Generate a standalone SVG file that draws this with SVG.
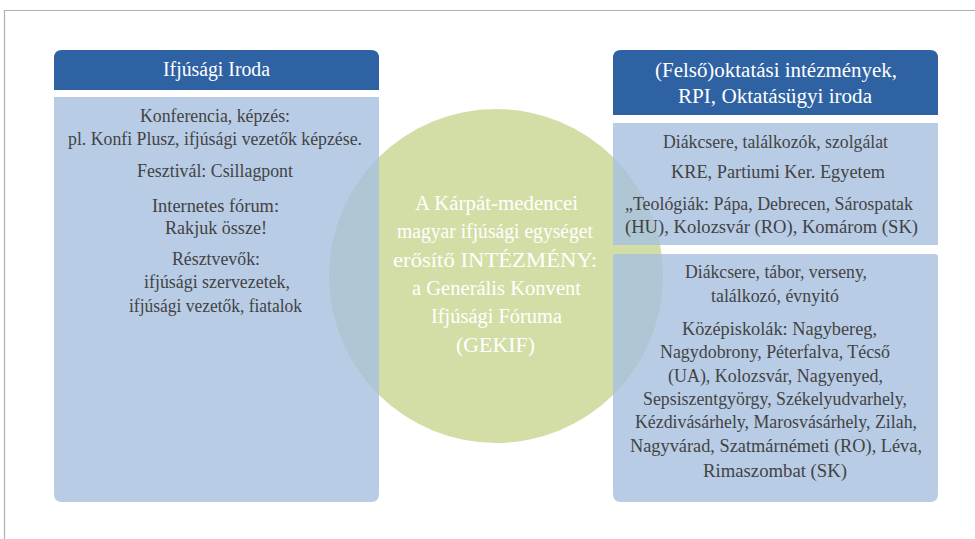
<svg xmlns="http://www.w3.org/2000/svg" width="975" height="539" viewBox="0 0 975 539">
<style>
text{font-family:"Liberation Serif","DejaVu Serif",serif;text-anchor:middle}
.hd{fill:#2e62a3}
.bd{fill:#a6bfe0;fill-opacity:0.8}
.ht{fill:#ffffff;font-size:20.5px}
.bt{fill:#434343;font-size:18px}
.ct{fill:#ffffff;font-size:20.5px}
</style>
<rect width="975" height="539" fill="#ffffff"/>
<path d="M4.5 539 V10.5 H975" fill="none" stroke="#b0b0b0" stroke-width="1.2"/>
<g id="center">
<circle cx="496" cy="276" r="167" fill="#d2dea6"/>
</g>
<g id="left">
<path class="hd" d="M54 90 V58 Q54 50 62 50 H371 Q379 50 379 58 V90 Z"/>
<text class="ht" x="216.5" y="76" textLength="107" lengthAdjust="spacingAndGlyphs">Ifjúsági Iroda</text>
<path class="bd" d="M54 97 H379 V494 Q379 502 371 502 H62 Q54 502 54 494 Z"/>
<text class="bt" x="215" y="122" textLength="150" lengthAdjust="spacingAndGlyphs">Konferencia, képzés:</text>
<text class="bt" x="215" y="145" textLength="294" lengthAdjust="spacingAndGlyphs">pl. Konfi Plusz, ifjúsági vezetők képzése.</text>
<text class="bt" x="215" y="177" textLength="156" lengthAdjust="spacingAndGlyphs">Fesztivál: Csillagpont</text>
<text class="bt" x="215.5" y="212" textLength="127" lengthAdjust="spacingAndGlyphs">Internetes fórum:</text>
<text class="bt" x="216" y="234" textLength="102" lengthAdjust="spacingAndGlyphs">Rakjuk össze!</text>
<text class="bt" x="216" y="265" textLength="88" lengthAdjust="spacingAndGlyphs">Résztvevők:</text>
<text class="bt" x="217" y="288" textLength="146" lengthAdjust="spacingAndGlyphs">ifjúsági szervezetek,</text>
<text class="bt" x="215.5" y="312" textLength="173" lengthAdjust="spacingAndGlyphs">ifjúsági vezetők, fiatalok</text>
</g>
<g id="right-top">
<path class="hd" d="M613 115 V58 Q613 50 621 50 H930 Q938 50 938 58 V115 Z"/>
<text class="ht" x="776" y="77" textLength="242" lengthAdjust="spacingAndGlyphs">(Felső)oktatási intézmények,</text>
<text class="ht" x="775" y="103" textLength="194" lengthAdjust="spacingAndGlyphs">RPI, Oktatásügyi iroda</text>
<rect class="bd" x="613" y="123" width="325" height="122"/>
<text class="bt" x="775.5" y="148" textLength="225" lengthAdjust="spacingAndGlyphs">Diákcsere, találkozók, szolgálat</text>
<text class="bt" x="778" y="178" textLength="214" lengthAdjust="spacingAndGlyphs">KRE, Partiumi Ker. Egyetem</text>
<text class="bt" x="769" y="210" textLength="288" lengthAdjust="spacingAndGlyphs">„Teológiák: Pápa, Debrecen, Sárospatak</text>
<text class="bt" x="771.5" y="233" textLength="293" lengthAdjust="spacingAndGlyphs">(HU), Kolozsvár (RO), Komárom (SK)</text>
</g>
<g id="right-bottom">
<path class="bd" d="M613 257 Q613 254 616 254 H935 Q938 254 938 257 V494 Q938 502 930 502 H621 Q613 502 613 494 Z"/>
<text class="bt" x="776" y="278" textLength="182" lengthAdjust="spacingAndGlyphs">Diákcsere, tábor, verseny,</text>
<text class="bt" x="775" y="302" textLength="128" lengthAdjust="spacingAndGlyphs">találkozó, évnyitó</text>
<text class="bt" x="779.5" y="335" textLength="195" lengthAdjust="spacingAndGlyphs">Középiskolák: Nagybereg,</text>
<text class="bt" x="775" y="358" textLength="230" lengthAdjust="spacingAndGlyphs">Nagydobrony, Péterfalva, Técső</text>
<text class="bt" x="775.5" y="382" textLength="215" lengthAdjust="spacingAndGlyphs">(UA), Kolozsvár, Nagyenyed,</text>
<text class="bt" x="775" y="405" textLength="264" lengthAdjust="spacingAndGlyphs">Sepsiszentgyörgy, Székelyudvarhely,</text>
<text class="bt" x="776" y="428" textLength="282" lengthAdjust="spacingAndGlyphs">Kézdivásárhely, Marosvásárhely, Zilah,</text>
<text class="bt" x="776" y="452" textLength="292" lengthAdjust="spacingAndGlyphs">Nagyvárad, Szatmárnémeti (RO), Léva,</text>
<text class="bt" x="775" y="477" textLength="144" lengthAdjust="spacingAndGlyphs">Rimaszombat (SK)</text>
</g>
<g id="center-label">
<text class="ct" x="496.5" y="210" textLength="163" lengthAdjust="spacingAndGlyphs">A Kárpát-medencei</text>
<text class="ct" x="495" y="238" textLength="196" lengthAdjust="spacingAndGlyphs">magyar ifjúsági egységet</text>
<text class="ct" x="495" y="267" textLength="204" lengthAdjust="spacingAndGlyphs">erősítő INTÉZMÉNY:</text>
<text class="ct" x="496.5" y="295" textLength="169" lengthAdjust="spacingAndGlyphs">a Generális Konvent</text>
<text class="ct" x="496.5" y="323" textLength="131" lengthAdjust="spacingAndGlyphs">Ifjúsági Fóruma</text>
<text class="ct" x="495.5" y="352" textLength="79" lengthAdjust="spacingAndGlyphs">(GEKIF)</text>
</g>
<g id="connectors"></g>
</svg>
